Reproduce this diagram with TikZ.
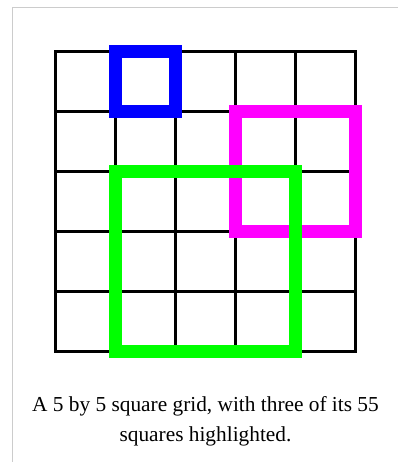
\documentclass[tikz,border=0pt]{standalone}
\usepackage{fontspec}
\setmainfont{Liberation Serif}
\usepackage{tikz}
\usetikzlibrary{calc}
\usepackage{xcolor}
\definecolor{framegray}{HTML}{CCCCCC}
\definecolor{hlblue}{HTML}{0000FF}
\definecolor{hlmagenta}{HTML}{FF00FF}
\definecolor{hlgreen}{HTML}{00FF00}
\tikzset{
  gridline/.style={draw=black,line width=2.25pt,line cap=rect},
  highlight/.style={line width=9.75pt,line join=miter},
  captiontext/.style={font=\fontsize{16}{22}\selectfont,anchor=base,inner sep=0pt},
}

\begin{document}
\begin{tikzpicture}[x=0.75pt,y=-0.75pt]

\useasboundingbox (0,0) rectangle (398,462);
\draw[framegray,line width=0.75pt] (13,462) -- (13,7) -- (398,7);

% the 5 by 5 grid
\foreach \i in {0,...,5}{
  \draw[gridline] ($(56,51)+(60*\i,0)$) -- ($(56,351)+(60*\i,0)$);
  \draw[gridline] ($(56,51)+(0,60*\i)$) -- ($(356,51)+(0,60*\i)$);
}

% highlighted squares
\draw[highlight,hlblue] (116,51) rectangle (176,111);
\draw[highlight,hlmagenta] (236,111) rectangle (356,231);
\draw[highlight,hlgreen] (116,171) rectangle (296,351);

\node[captiontext] (cap1) at (205.5,411) {A 5 by 5 square grid, with three of its 55};
\node[captiontext] (cap2) at (205.5,441) {squares highlighted.};

\end{tikzpicture}
\end{document}
